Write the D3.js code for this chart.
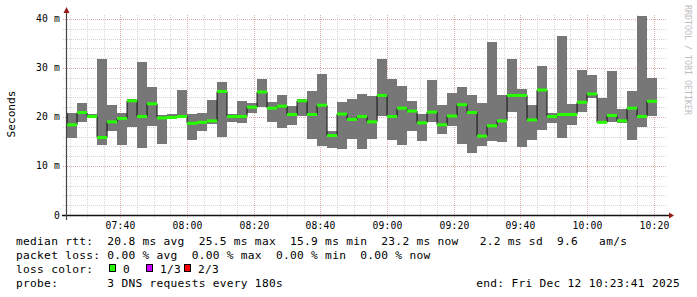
<!DOCTYPE html>
<html>
<head>
<meta charset="utf-8">
<script src="https://cdn.jsdelivr.net/npm/d3@7/dist/d3.min.js"></script>
<style>
    html, body { margin: 0; padding: 0; background: #fff; }
    svg { display: block; }
    text { font-family: "DejaVu Sans Mono", monospace; white-space: pre; }
</style>
</head>
<body>
<svg id="chart" width="697" height="297"></svg>
<script>
// rtt per 180s step, ms (index 0 is the partial step at the left edge)
const smokeMax = [28.8, 20.8, 22.9, 20.6, 31.8, 22.4, 20.8, 23.6, 31.2, 26.2,
                  20.4, 20.6, 25.5, 20.6, 20.9, 23.5, 27.1, 20.6, 23.3, 22.8,
                  27.8, 23.1, 24.5, 22.2, 23.7, 25.3, 28.8, 17.1, 23.1, 23.7,
                  24.7, 24.3, 31.8, 27.8, 26.4, 23.3, 20.6, 27.6, 22.4, 24.9,
                  26.2, 24.5, 22.9, 35.2, 24.5, 31.8, 25.7, 22.4, 30.4, 20.8,
                  36.5, 22.7, 29.6, 28.6, 23.9, 29.4, 21.6, 25.3, 40.6, 28.0];
const medianRtt = [20.8, 18.4, 20.9, 20.1, 15.8, 19.0, 19.7, 23.3, 20.1, 22.7,
                   19.8, 19.9, 20.1, 18.7, 18.9, 19.2, 25.2, 20.1, 20.1, 22.0,
                   25.1, 21.8, 22.2, 20.5, 23.3, 20.5, 22.4, 16.2, 20.6, 19.5,
                   20.1, 19.0, 24.4, 20.1, 21.8, 21.2, 18.8, 21.0, 18.4, 20.2,
                   22.5, 20.9, 16.1, 18.2, 19.2, 24.4, 24.4, 19.4, 25.5, 20.1,
                   20.5, 20.5, 23.0, 24.7, 18.9, 20.3, 19.2, 21.8, 20.1, 23.2];
const smokeMin = [18.3, 15.8, 19.0, 19.7, 14.3, 17.2, 14.3, 18.0, 13.7, 18.2,
                  14.5, 19.6, 19.7, 15.3, 17.2, 18.6, 16.0, 19.0, 18.8, 20.9,
                  22.1, 19.0, 17.8, 18.4, 20.2, 15.6, 14.1, 13.7, 13.5, 15.6,
                  13.4, 15.6, 20.1, 15.3, 14.3, 17.1, 15.1, 19.0, 16.5, 18.2,
                  14.5, 12.7, 14.1, 15.0, 14.8, 21.1, 13.9, 15.2, 17.3, 18.8,
                  15.8, 18.4, 21.1, 23.8, 18.8, 19.0, 18.8, 15.3, 18.0, 20.1];

const yTicks = [0, 10, 20, 30, 40];

const legendLines = [
    "median rtt:  20.8 ms avg  25.5 ms max  15.9 ms min  23.2 ms now   2.2 ms sd  9.6   am/s",
    "packet loss: 0.00 % avg  0.00 % max  0.00 % min  0.00 % now",
    "loss color:",
    "probe:       3 DNS requests every 180s"
];
const lossLabels = ["0", "1/3", "2/3"];
const lossColors = ["#26ff00", "#cc00ff", "#ff0000"];
const endLabel = "end: Fri Dec 12 10:23:41 2025";

const tEnd = Date.UTC(2025, 11, 12, 10, 23, 41);
const tStart = tEnd - 3 * 3600e3;
const firstStep = Date.UTC(2025, 11, 12, 7, 24, 0);
const step = 180e3;

const svg = d3.select("#chart");
svg.append("rect").attr("width", 697).attr("height", 297).attr("fill", "#fff");

const plotL = 66, plotR = 666, plotT = 15, plotB = 215;

const x = d3.scaleUtc().domain([tStart, tEnd]).range([plotL, plotR]);
const y = d3.scaleLinear().domain([0, 40.8]).range([plotB, plotT]);

const px = v => Math.round(v) + 0.5;

// grid
const grid = svg.append("g").attr("stroke-dasharray", "1,1").attr("fill", "none");
const minorT = d3.utcMinute.every(5).range(new Date(tStart), new Date(tEnd));
const majorT = d3.utcMinute.every(20).range(new Date(tStart), new Date(tEnd));
const minorY = d3.range(2, 40.8, 2).filter(v => v % 10 !== 0);

grid.selectAll("line.vmin")
    .data(minorT.filter(t => t.getUTCMinutes() % 20 !== 0))
    .join("line")
    .attr("x1", d => px(x(d))).attr("x2", d => px(x(d)))
    .attr("y1", plotT).attr("y2", plotB + 3)
    .attr("stroke", "#d6d6d6");

grid.selectAll("line.hmin")
    .data(minorY)
    .join("line")
    .attr("y1", d => px(y(d))).attr("y2", d => px(y(d)))
    .attr("x1", plotL - 3).attr("x2", plotR)
    .attr("stroke", "#d6d6d6");

grid.selectAll("line.vmaj")
    .data(majorT)
    .join("line")
    .attr("x1", d => px(x(d))).attr("x2", d => px(x(d)))
    .attr("y1", plotT).attr("y2", plotB + 3)
    .attr("stroke", "#e3aaaa");

grid.selectAll("line.hmaj")
    .data(yTicks.filter(v => v > 0))
    .join("line")
    .attr("y1", d => px(y(d))).attr("y2", d => px(y(d)))
    .attr("x1", plotL - 3).attr("x2", plotR)
    .attr("stroke", "#e3aaaa");

// steps
const bars = medianRtt.map((m, i) => ({
    x0: Math.max(plotL, x(firstStep + (i - 1) * step)),
    x1: x(firstStep + i * step),
    max: smokeMax[i], med: m, min: smokeMin[i]
}));

// smoke
svg.append("g")
    .selectAll("rect")
    .data(bars)
    .join("rect")
    .attr("x", d => d.x0)
    .attr("width", d => d.x1 - d.x0)
    .attr("y", d => y(d.max))
    .attr("height", d => y(d.min) - y(d.max))
    .attr("fill", "#777777")
    .attr("shape-rendering", "crispEdges");

// median line
const stepPts = bars.map(d => [d.x0, y(d.med)]);
stepPts.push([bars[bars.length - 1].x1, y(medianRtt[medianRtt.length - 1])]);
svg.append("path")
    .attr("d", d3.line().curve(d3.curveStepAfter)(stepPts))
    .attr("fill", "none")
    .attr("stroke", "#111")
    .attr("stroke-width", 1);

svg.append("g")
    .selectAll("rect")
    .data(bars)
    .join("rect")
    .attr("x", d => d.x0)
    .attr("width", d => d.x1 - d.x0)
    .attr("y", d => y(d.med) - 1.5)
    .attr("height", 3)
    .attr("fill", lossColors[0]);

// axes
svg.append("line")
    .attr("x1", plotL - 4).attr("x2", plotR + 4)
    .attr("y1", plotB + 0.5).attr("y2", plotB + 0.5)
    .attr("stroke", "#111").attr("stroke-width", 1.5);
svg.append("line")
    .attr("x1", plotL + 0.5).attr("x2", plotL + 0.5)
    .attr("y1", plotB + 5).attr("y2", plotT - 2)
    .attr("stroke", "#444").attr("stroke-width", 1.2);

svg.append("path")
    .attr("d", `M${plotL - 2.5},${plotT - 2}L${plotL + 3.5},${plotT - 2}L${plotL + 0.5},${plotT - 8}Z`)
    .attr("fill", "#921c1c");
svg.append("path")
    .attr("d", `M${plotR + 3},${plotB - 2.5}L${plotR + 3},${plotB + 3.5}L${plotR + 8},${plotB + 0.5}Z`)
    .attr("fill", "#921c1c");

// tick labels
svg.append("g")
    .selectAll("text")
    .data(majorT)
    .join("text")
    .attr("x", d => px(x(d)))
    .attr("y", 228.5)
    .attr("text-anchor", "middle")
    .attr("font-size", 9.7)
    .attr("letter-spacing", 0.15)
    .attr("fill", "#000")
    .text(d3.utcFormat("%H:%M"));

svg.append("g")
    .selectAll("text")
    .data(yTicks)
    .join("text")
    .attr("x", 60)
    .attr("y", d => y(d) + 3.5)
    .attr("text-anchor", "end")
    .attr("font-size", 9.7)
    .attr("letter-spacing", 0.15)
    .attr("fill", "#000")
    .text(d => d === 0 ? "0" : d + " m");

svg.append("text")
    .attr("transform", "translate(15,114) rotate(-90)")
    .attr("text-anchor", "middle")
    .attr("font-size", 11.2)
    .attr("fill", "#000")
    .text("Seconds");

svg.append("text")
    .attr("transform", "translate(685,5) rotate(90)")
    .attr("font-size", 8.3)
    .attr("fill", "#bdbdbd")
    .text("RRDTOOL / TOBI OETIKER");

// legend
const legend = svg.append("g").attr("font-size", 11.2).attr("letter-spacing", 0.29).attr("fill", "#000");
legend.selectAll("text")
    .data(legendLines)
    .join("text")
    .attr("x", 16)
    .attr("y", (d, i) => 245 + i * 14.1)
    .text(d => d);

const boxX = [109, 146, 184];
const lossItems = legend.selectAll("g.loss")
    .data(lossLabels)
    .join("g");
lossItems.append("rect")
    .attr("x", (d, i) => boxX[i] + 0.5)
    .attr("y", 264.5)
    .attr("width", 6)
    .attr("height", 7)
    .attr("fill", (d, i) => lossColors[i])
    .attr("stroke", "#000")
    .attr("stroke-width", 1);
lossItems.append("text")
    .attr("x", (d, i) => boxX[i] + 14)
    .attr("y", 245 + 2 * 14.1)
    .text(d => d);

legend.append("text")
    .attr("x", 680)
    .attr("y", 245 + 3 * 14.1)
    .attr("text-anchor", "end")
    .text(endLabel);
</script>
</body>
</html>
